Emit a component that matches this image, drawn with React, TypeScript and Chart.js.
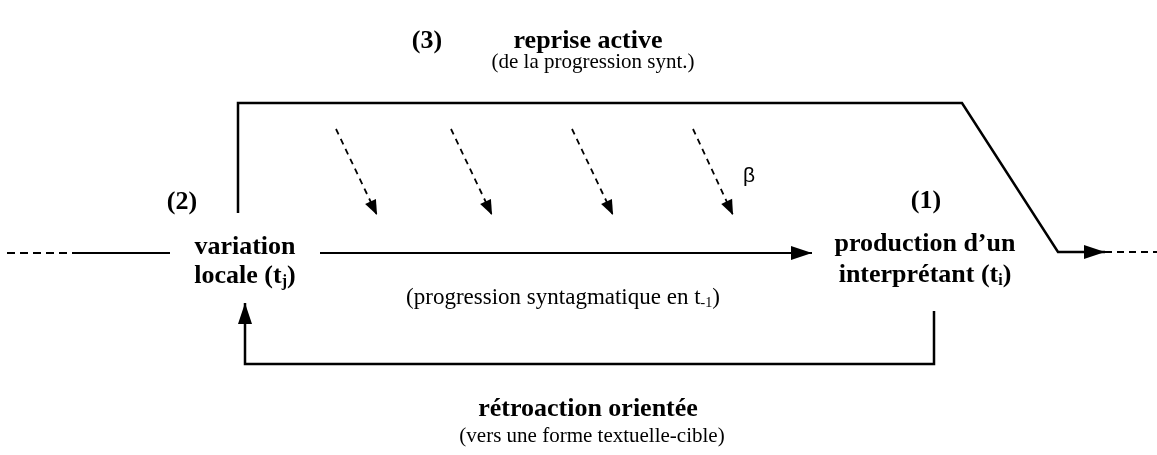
import React, { useEffect, useRef } from "react";
import { Chart, registerables } from "chart.js";

Chart.register(...registerables);

// Diagram geometry expressed as data on pixel-like linear scales (x: 0..1157, y: 0..455 downward)
const leftDashed = [{ x: 7, y: 253 }, { x: 78, y: 253 }];
const leftSolid = [{ x: 78, y: 253 }, { x: 170, y: 253 }];
const progression = [{ x: 320, y: 253 }, { x: 812, y: 253 }];
const reprise = [
  { x: 238, y: 213 }, { x: 238, y: 103 }, { x: 962, y: 103 },
  { x: 1058, y: 252 }, { x: 1105, y: 252 },
];
const rightDashed = [{ x: 1105, y: 252 }, { x: 1157, y: 252 }];
const feedback = [
  { x: 934, y: 311 }, { x: 934, y: 364 }, { x: 245, y: 364 }, { x: 245, y: 303 },
];
const betaStarts = [{ x: 336, y: 129 }, { x: 451, y: 129 }, { x: 572, y: 129 }, { x: 693, y: 129 }];
const betaTips = [{ x: 377, y: 215 }, { x: 492, y: 215 }, { x: 613, y: 215 }, { x: 733, y: 215 }];

type Seg = { t: string; sub?: boolean };
type Label = { x: number; y: number; segs: Seg[]; bold: boolean; size: number; family?: string };

// y = text baseline
const labels: Label[] = [
  { x: 427, y: 48, segs: [{ t: "(3)" }], bold: true, size: 26 },
  { x: 588, y: 48, segs: [{ t: "reprise active" }], bold: true, size: 26 },
  { x: 593, y: 68, segs: [{ t: "(de la progression synt.)" }], bold: false, size: 21 },
  { x: 182, y: 209, segs: [{ t: "(2)" }], bold: true, size: 26 },
  { x: 926, y: 208, segs: [{ t: "(1)" }], bold: true, size: 26 },
  { x: 245, y: 254, segs: [{ t: "variation" }], bold: true, size: 26 },
  { x: 245, y: 283, segs: [{ t: "locale (t" }, { t: "j", sub: true }, { t: ")" }], bold: true, size: 26 },
  { x: 925, y: 251, segs: [{ t: "production d\u2019un" }], bold: true, size: 26 },
  { x: 925, y: 282, segs: [{ t: "interpr\u00e9tant (t" }, { t: "i", sub: true }, { t: ")" }], bold: true, size: 26 },
  { x: 563, y: 304, segs: [{ t: "(progression syntagmatique en t" }, { t: "-1", sub: true }, { t: ")" }], bold: false, size: 23 },
  { x: 749, y: 182, segs: [{ t: "\u03b2" }], bold: false, size: 21, family: "'Liberation Sans', Arial, sans-serif" },
  { x: 588, y: 416, segs: [{ t: "r\u00e9troaction orient\u00e9e" }], bold: true, size: 26 },
  { x: 592, y: 442, segs: [{ t: "(vers une forme textuelle-cible)" }], bold: false, size: 21 },
];

const arrowDatasets = ["progression", "reprise", "feedback", "beta0", "beta1", "beta2", "beta3"];

const diagramPlugin = {
  id: "diagram",
  afterDatasetsDraw(chart: any) {
    const ctx = chart.ctx as CanvasRenderingContext2D;
    const xs = chart.scales.x;
    const ys = chart.scales.y;
    // arrowheads
    chart.data.datasets.forEach((ds: any) => {
      if (!arrowDatasets.includes(ds.label)) return;
      const pts = ds.data;
      const a = pts[pts.length - 2];
      const b = pts[pts.length - 1];
      const x1 = xs.getPixelForValue(a.x), y1 = ys.getPixelForValue(a.y);
      const x2 = xs.getPixelForValue(b.x), y2 = ys.getPixelForValue(b.y);
      const ang = Math.atan2(y2 - y1, x2 - x1);
      const small = ds.label.startsWith("beta");
      const len = small ? 15 : 21;
      const hw = small ? 6 : 7;
      ctx.save();
      ctx.fillStyle = "#000";
      ctx.beginPath();
      ctx.moveTo(x2, y2);
      ctx.lineTo(x2 - len * Math.cos(ang) + hw * Math.sin(ang), y2 - len * Math.sin(ang) - hw * Math.cos(ang));
      ctx.lineTo(x2 - len * Math.cos(ang) - hw * Math.sin(ang), y2 - len * Math.sin(ang) + hw * Math.cos(ang));
      ctx.closePath();
      ctx.fill();
      ctx.restore();
    });
    // texts
    labels.forEach((l) => {
      const fam = l.family || "'Liberation Serif', 'Times New Roman', serif";
      const main = `${l.bold ? "bold " : ""}${l.size}px ${fam}`;
      const subSize = Math.round(l.size * 0.6);
      const sub = `${l.bold ? "bold " : ""}${subSize}px ${fam}`;
      ctx.save();
      let total = 0;
      const widths = l.segs.map((s) => {
        ctx.font = s.sub ? sub : main;
        const w = ctx.measureText(s.t).width;
        total += w;
        return w;
      });
      let cx = xs.getPixelForValue(l.x) - total / 2;
      const cy = ys.getPixelForValue(l.y);
      ctx.fillStyle = "#000";
      ctx.textBaseline = "alphabetic";
      ctx.textAlign = "left";
      l.segs.forEach((s, i) => {
        ctx.font = s.sub ? sub : main;
        ctx.fillText(s.t, cx, s.sub ? cy + l.size * 0.12 : cy);
        cx += widths[i];
      });
      ctx.restore();
    });
  },
};

export default function App() {
  const ref = useRef<HTMLCanvasElement>(null);
  useEffect(() => {
    document.body.style.margin = "0";
    const solid = (label: string, data: any[], w = 2) => ({
      label, data, borderColor: "#000", borderWidth: w, pointRadius: 0, showLine: true,
      fill: false, tension: 0, borderJoinStyle: "miter" as const,
    });
    const dashed = (label: string, data: any[], w: number, dash: number[]) => ({
      ...solid(label, data, w), borderDash: dash,
    });
    const chart = new Chart(ref.current!, {
      type: "scatter",
      data: {
        datasets: [
          dashed("leftDashed", leftDashed, 2, [8, 5]),
          solid("leftSolid", leftSolid),
          solid("progression", progression),
          solid("reprise", reprise, 2.5),
          dashed("rightDashed", rightDashed, 2, [7, 5]),
          solid("feedback", feedback, 2.5),
          ...betaStarts.map((s, i) => dashed(`beta${i}`, [s, betaTips[i]], 1.8, [6, 5])),
        ] as any,
      },
      options: {
        responsive: false,
        animation: false,
        layout: { padding: 0 },
        plugins: { legend: { display: false }, tooltip: { enabled: false } },
        scales: {
          x: { type: "linear", min: 0, max: 1157, display: false },
          y: { type: "linear", min: 0, max: 455, reverse: true, display: false },
        },
      },
      plugins: [diagramPlugin],
    });
    return () => chart.destroy();
  }, []);
  return (
    <div style={{ position: "absolute", left: 0, top: 0, width: 1157, height: 455, background: "#fff" }}>
      <canvas ref={ref} width={1157} height={455} />
    </div>
  );
}
